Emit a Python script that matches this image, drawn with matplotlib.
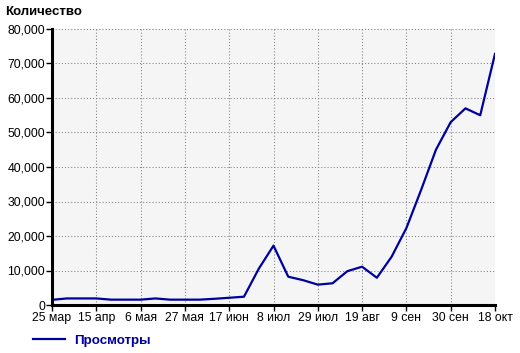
import matplotlib.pyplot as plt
from matplotlib.ticker import FuncFormatter

# weekly points, 25 мар .. 18 окт
views = [1500, 1900, 1900, 1900, 1550, 1550, 1550, 1900, 1550, 1550,
         1550, 1800, 2100, 2400, 10500, 17200, 8200, 7200, 5900, 6300,
         9800, 11100, 7900, 14000, 22300, 33400, 45000, 53000, 57000, 55000,
         72800]
tick_labels = ["25 мар", "15 апр", "6 мая", "27 мая", "17 июн", "8 июл",
               "29 июл", "19 авг", "9 сен", "30 сен", "18 окт"]
tick_pos = [0, 3, 6, 9, 12, 15, 18, 21, 24, 27, 30]

plt.rcParams["font.family"] = ["Liberation Sans", "DejaVu Sans"]
navy = "#00009c"

fig = plt.figure(figsize=(5.2, 3.53), dpi=100)
ax = fig.add_axes([52 / 520, 48 / 353, 443 / 520, 276 / 353])
ax.set_facecolor("#f5f5f5")

line, = ax.plot(range(len(views)), views, color=navy, lw=1.6,
                solid_joinstyle="round", label="Просмотры")

ax.set_xlim(0, len(views) - 1)
ax.set_ylim(0, 80000)
ax.set_xticks(tick_pos)
ax.set_xticklabels(tick_labels)
ax.set_yticks(range(0, 80001, 10000))
ax.yaxis.set_major_formatter(FuncFormatter(lambda v, p: f"{int(v):,}"))

ax.grid(True, color="#808080", lw=0.75, linestyle=(0, (1, 2)))
ax.set_axisbelow(True)

for s in ["top", "right"]:
    ax.spines[s].set_visible(False)
for s in ["left", "bottom"]:
    ax.spines[s].set_linewidth(2.2)
    ax.spines[s].set_color("black")

ax.tick_params(axis="both", length=4, width=1, color="black",
               labelsize=8.8, pad=1)

fig.text(5 / 520, 1 - 12 / 353, "Количество", fontsize=9.5, weight="bold",
         va="center", ha="left")

leg = fig.legend(handles=[line], loc="center left",
                 bbox_to_anchor=(21 / 520, 1 - 341 / 353), frameon=False,
                 handlelength=2.4, handletextpad=0.7,
                 prop={"weight": "bold", "size": 9.6})
for t in leg.get_texts():
    t.set_color(navy)

plt.savefig("out.png", dpi=100)
